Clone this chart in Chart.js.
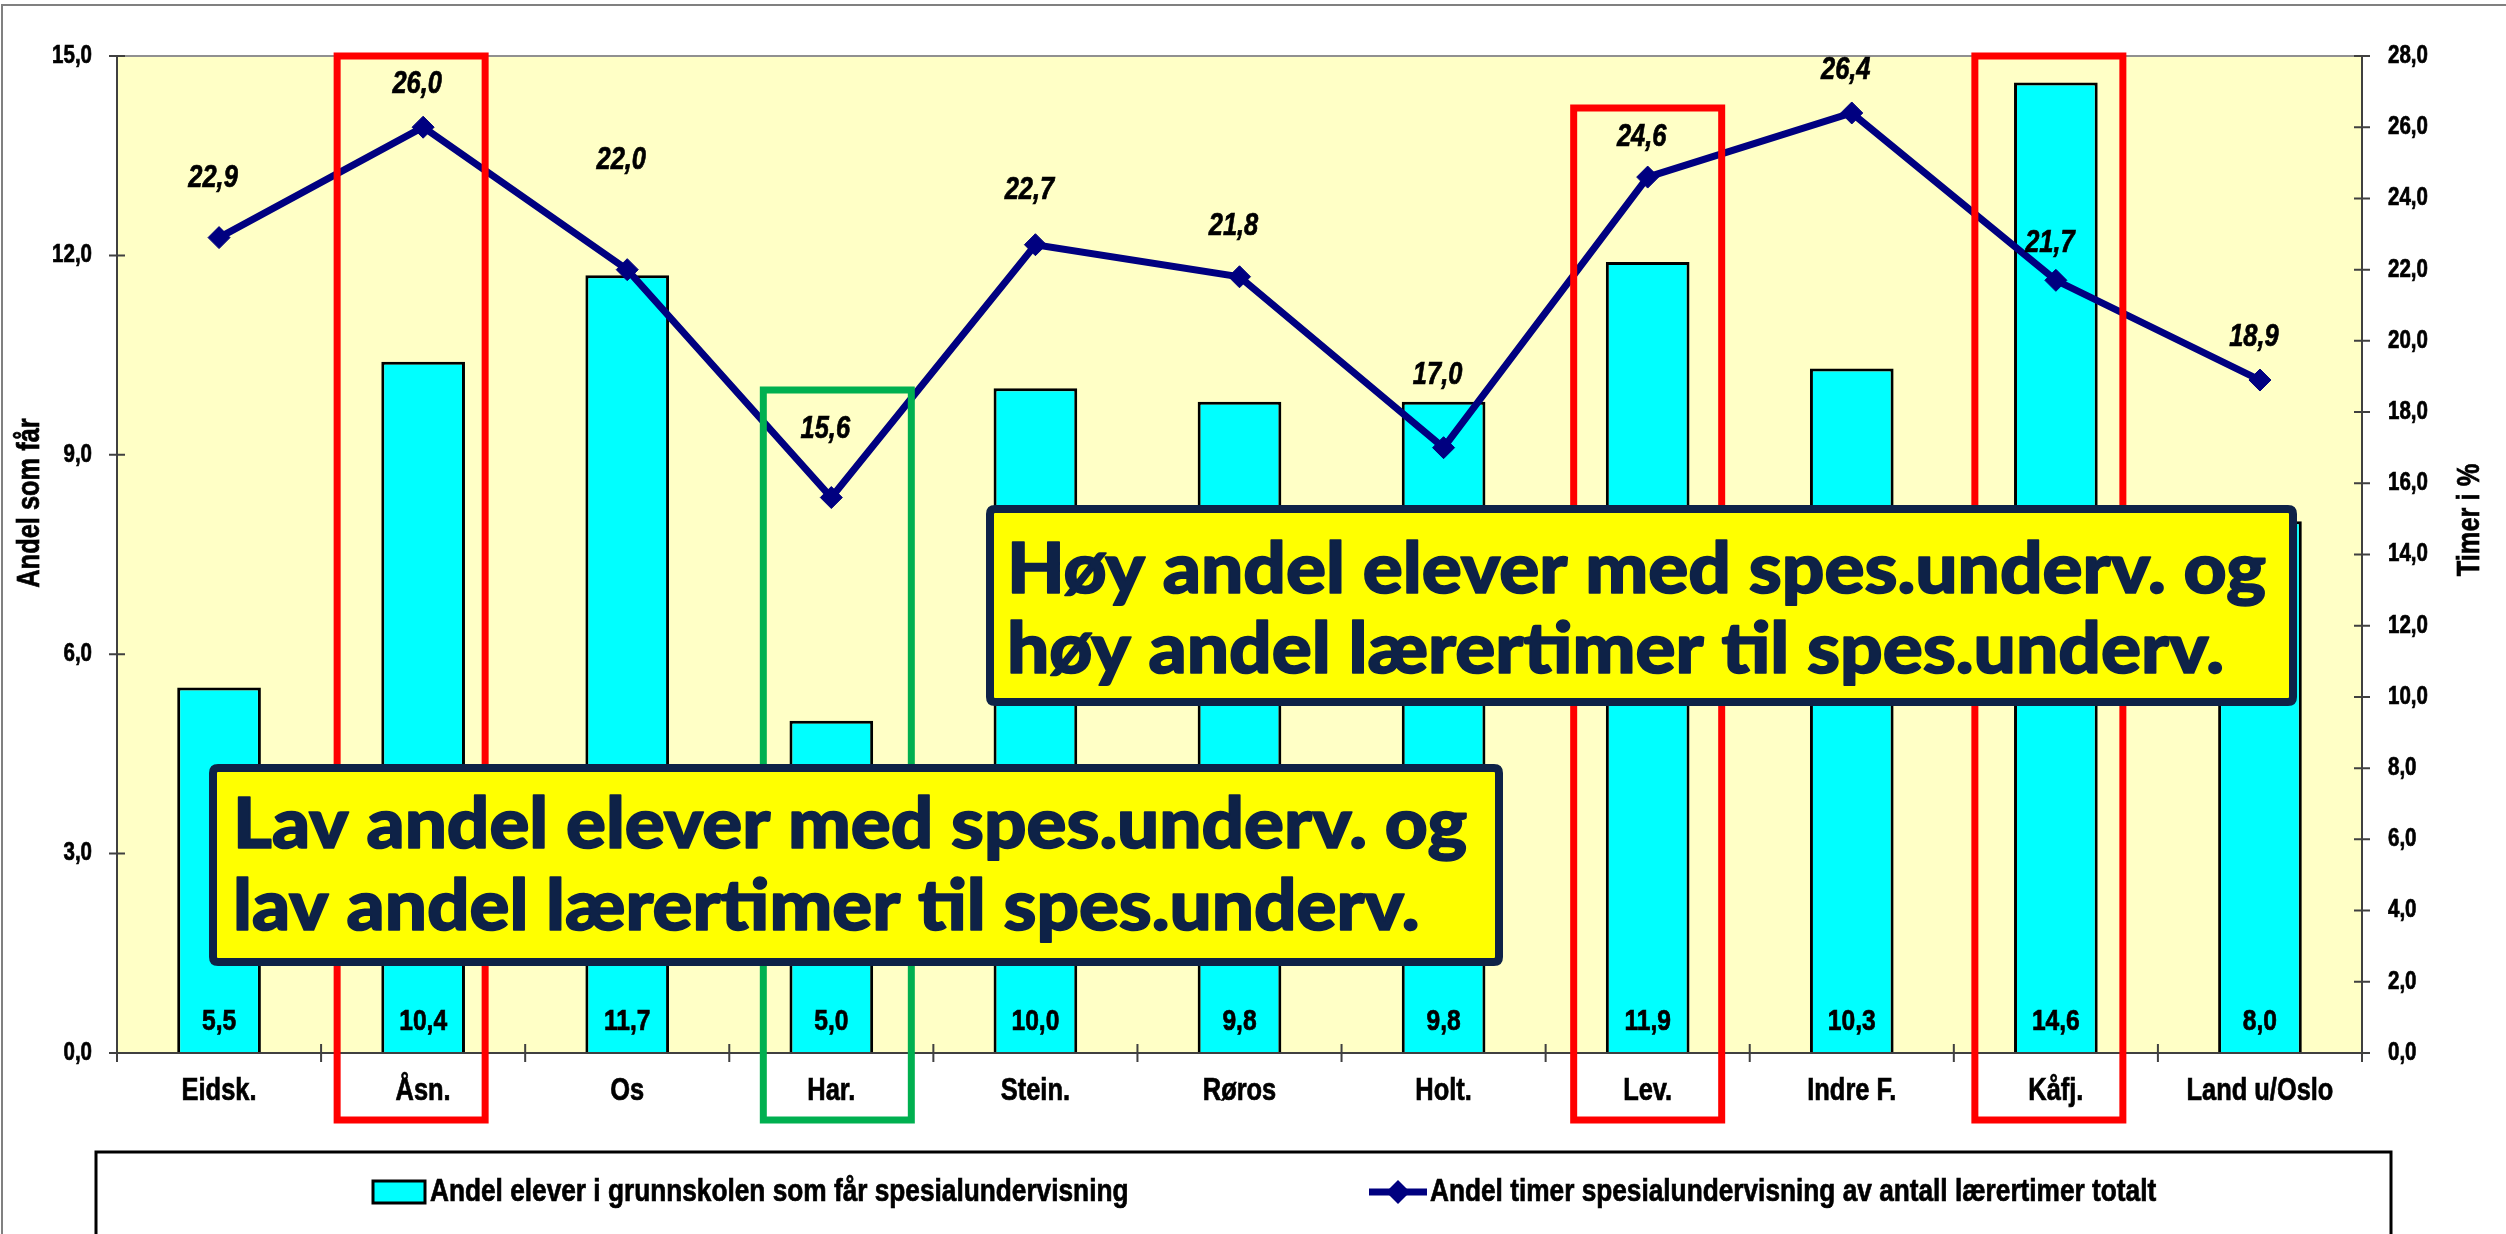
<!DOCTYPE html>
<html>
<head>
<meta charset="utf-8">
<script src="https://cdn.jsdelivr.net/npm/chart.js@4.4.1/dist/chart.umd.min.js"></script>
<style>
  html, body { margin: 0; padding: 0; background: #fff; }
  #wrap { width: 2506px; height: 1234px; }
</style>
</head>
<body>
<div id="wrap"><canvas id="chart" width="2506" height="1234"></canvas></div>
<script>
// kommuner langs x-aksen
const categories = ['Eidsk.', 'Åsn.', 'Os', 'Har.', 'Stein.', 'Røros', 'Holt.', 'Lev.', 'Indre F.', 'Kåfj.', 'Land u/Oslo'];
// venstre akse: andel elever med spesialundervisning
const elevShare = [5.5, 10.4, 11.7, 5.0, 10.0, 9.8, 9.8, 11.9, 10.3, 14.6, 8.0];
// høyre akse: andel timer spesialundervisning (%)
const hoursShare = [22.9, 26.0, 22.0, 15.6, 22.7, 21.8, 17.0, 24.6, 26.4, 21.7, 18.9];

const barLegend = 'Andel elever i grunnskolen som får spesialundervisning';
const lineLegend = 'Andel timer spesialundervisning av antall lærertimer totalt';

// how far above each point its label sits (px)
const lineLabelLift = [59, 43, 109, 68, 54, 50, 72, 40, 43, 37, 43];

const NAVY = '#000080';
const NOTE_INK = '#0E2247';

const fmt = (v) => v.toFixed(1).replace('.', ',');

// Arial Narrow isn't around, so squeeze Liberation Sans Bold instead
function narrowText(ctx, text, x, y, size, align, italic, rot) {
  ctx.save();
  ctx.translate(x, y);
  if (rot) ctx.rotate(rot);
  ctx.scale(0.82, 1);
  ctx.font = `${italic ? 'italic ' : ''}bold ${size}px "Liberation Sans", Arial, sans-serif`;
  ctx.textAlign = align;
  ctx.textBaseline = 'middle';
  ctx.fillStyle = '#000';
  ctx.strokeStyle = '#000';
  ctx.lineWidth = 0.7;
  ctx.fillText(text, 0, 0);
  ctx.strokeText(text, 0, 0);
  ctx.restore();
}

function roundRect(ctx, x, y, w, h, r) {
  ctx.beginPath();
  ctx.moveTo(x + r, y);
  ctx.lineTo(x + w - r, y);
  ctx.quadraticCurveTo(x + w, y, x + w, y + r);
  ctx.lineTo(x + w, y + h - r);
  ctx.quadraticCurveTo(x + w, y + h, x + w - r, y + h);
  ctx.lineTo(x + r, y + h);
  ctx.quadraticCurveTo(x, y + h, x, y + h - r);
  ctx.lineTo(x, y + r);
  ctx.quadraticCurveTo(x, y, x + r, y);
  ctx.closePath();
}

function drawNote(ctx, box, lines) {
  ctx.save();
  const bw = 8;
  roundRect(ctx, box.x + bw / 2, box.y + bw / 2, box.w - bw, box.h - bw, 5);
  ctx.fillStyle = '#FFFF00';
  ctx.fill();
  ctx.lineWidth = bw;
  ctx.strokeStyle = NOTE_INK;
  ctx.stroke();
  ctx.fillStyle = NOTE_INK;
  ctx.lineWidth = 1.6;
  ctx.lineJoin = 'round';
  ctx.font = '900 70px Lato, "Open Sans", sans-serif';
  ctx.textBaseline = 'alphabetic';
  ctx.textAlign = 'left';
  const sx = box.textW / ctx.measureText(lines[0]).width;
  lines.forEach((t, i) => {
    ctx.save();
    ctx.translate(box.x + box.pad, box.y + box.base[i]);
    ctx.scale(sx, 1);
    ctx.fillText(t, 0, 0);
    ctx.strokeText(t, 0, 0);
    ctx.restore();
  });
  ctx.restore();
}

const excelLook = {
  id: 'excelLook',
  beforeDraw(chart) {
    const { ctx, chartArea: a } = chart;
    ctx.save();
    ctx.fillStyle = '#fff';
    ctx.fillRect(0, 0, chart.width, chart.height);
    // outer frame (right/bottom fall outside the picture)
    ctx.strokeStyle = '#808080';
    ctx.lineWidth = 2;
    ctx.beginPath();
    ctx.moveTo(2, chart.height);
    ctx.lineTo(2, 5);
    ctx.lineTo(chart.width, 5);
    ctx.stroke();
    // plot area
    ctx.fillStyle = '#FFFFC6';
    ctx.fillRect(a.left, a.top, a.right - a.left, a.bottom - a.top);
    ctx.restore();
  },
  afterDatasetsDraw(chart) {
    const { ctx, chartArea: a, scales } = chart;
    ctx.save();
    // plot border + axes
    ctx.strokeStyle = '#909090';
    ctx.lineWidth = 2;
    ctx.beginPath();
    ctx.moveTo(a.left, a.top);
    ctx.lineTo(a.right, a.top);
    ctx.stroke();
    ctx.strokeStyle = '#404040';
    ctx.beginPath();
    ctx.moveTo(a.left, a.top); ctx.lineTo(a.left, a.bottom);
    ctx.moveTo(a.right, a.top); ctx.lineTo(a.right, a.bottom);
    ctx.moveTo(a.left - 8, a.bottom); ctx.lineTo(a.right + 8, a.bottom);
    // cross ticks
    scales.y.ticks.forEach((t, i) => {
      const y = scales.y.getPixelForTick(i);
      ctx.moveTo(a.left - 8, y); ctx.lineTo(a.left + 8, y);
    });
    scales.y1.ticks.forEach((t, i) => {
      const y = scales.y1.getPixelForTick(i);
      ctx.moveTo(a.right - 8, y); ctx.lineTo(a.right + 8, y);
    });
    const cw = (a.right - a.left) / categories.length;
    for (let i = 0; i <= categories.length; i++) {
      const x = a.left + i * cw;
      ctx.moveTo(x, a.bottom - 9); ctx.lineTo(x, a.bottom + 9);
    }
    ctx.stroke();

    // tick labels
    scales.y.ticks.forEach((t, i) => {
      narrowText(ctx, fmt(t.value), a.left - 25, scales.y.getPixelForTick(i), 25, 'right');
    });
    scales.y1.ticks.forEach((t, i) => {
      narrowText(ctx, fmt(t.value), a.right + 26, scales.y1.getPixelForTick(i), 25, 'left');
    });
    categories.forEach((c, i) => {
      narrowText(ctx, c, scales.x.getPixelForValue(i), a.bottom + 38, 31, 'center');
    });

    // bar values at the foot of each bar
    chart.getDatasetMeta(1).data.forEach((el, i) => {
      narrowText(ctx, fmt(elevShare[i]), el.x, a.bottom - 31, 30, 'center');
    });
    // line values
    chart.getDatasetMeta(0).data.forEach((el, i) => {
      narrowText(ctx, fmt(hoursShare[i]), el.x - 6, el.y - lineLabelLift[i], 31, 'center', true);
    });
    ctx.restore();
  },
  afterDraw(chart) {
    const { ctx, chartArea: a, scales } = chart;
    ctx.save();
    // axis titles
    narrowText(ctx, 'Andel som får', 30, 503, 31, 'center', false, -Math.PI / 2);
    narrowText(ctx, 'Timer i %', 2470, 520, 31, 'center', false, -Math.PI / 2);

    // highlight frames around some municipalities
    const frames = [
      { i: 1, dx: -12, top: a.top, color: '#FF0000' },
      { i: 3, dx: 6, top: 390, color: '#00B050' },
      { i: 7, dx: 0, top: 108, color: '#FF0000' },
      { i: 9, dx: -7, top: a.top, color: '#FF0000' },
    ];
    ctx.lineWidth = 7;
    frames.forEach((f) => {
      const cx = scales.x.getPixelForValue(f.i) + f.dx;
      ctx.strokeStyle = f.color;
      ctx.strokeRect(cx - 74, f.top, 148, 1120 - f.top);
    });

    // text notes
    drawNote(ctx, { x: 986, y: 505, w: 1311, h: 201, pad: 21, textW: 1259, base: [88, 168] },
      ['Høy andel elever med spes.underv. og', 'høy andel lærertimer til spes.underv.']);
    drawNote(ctx, { x: 209, y: 764, w: 1294, h: 202, pad: 24, textW: 1234, base: [84, 166] },
      ['Lav andel elever med spes.underv. og', 'lav andel lærertimer til spes.underv.']);

    // legend box
    ctx.strokeStyle = '#000';
    ctx.lineWidth = 3;
    ctx.strokeRect(96, 1152, 2295, 200);
    const ly = 1192;
    ctx.fillStyle = '#00FFFF';
    ctx.fillRect(373, ly - 11, 52, 22);
    ctx.lineWidth = 3;
    ctx.strokeRect(373, ly - 11, 52, 22);
    ctx.strokeStyle = NAVY;
    ctx.lineWidth = 7;
    ctx.beginPath();
    ctx.moveTo(1369, ly); ctx.lineTo(1427, ly);
    ctx.stroke();
    ctx.fillStyle = NAVY;
    ctx.beginPath();
    ctx.moveTo(1398, ly - 12); ctx.lineTo(1410, ly); ctx.lineTo(1398, ly + 12); ctx.lineTo(1386, ly);
    ctx.closePath();
    ctx.fill();
    narrowText(ctx, barLegend, 430, ly, 32, 'left');
    narrowText(ctx, lineLegend, 1430, ly, 32, 'left');
    ctx.restore();
  },
};

new Chart(document.getElementById('chart'), {
  type: 'bar',
  data: {
    labels: categories,
    datasets: [
      {
        type: 'line',
        label: lineLegend,
        data: hoursShare,
        yAxisID: 'y1',
        order: 0,
        borderColor: NAVY,
        backgroundColor: NAVY,
        borderWidth: 7,
        pointStyle: 'rectRot',
        pointRadius: 11,
        pointBorderWidth: 1,
        tension: 0,
      },
      {
        type: 'bar',
        label: barLegend,
        data: elevShare,
        yAxisID: 'y',
        order: 1,
        backgroundColor: '#00FFFF',
        borderColor: '#000',
        borderWidth: 3,
        barPercentage: 0.41,
        categoryPercentage: 1,
      },
    ],
  },
  options: {
    responsive: false,
    devicePixelRatio: 1,
    animation: false,
    layout: { padding: { top: 56, left: 0, right: 0, bottom: 0 } },
    plugins: { legend: { display: false }, tooltip: { enabled: false } },
    scales: {
      x: {
        offset: true,
        grid: { display: false, drawTicks: false },
        border: { display: false },
        ticks: { display: false, autoSkip: false },
        afterFit: (s) => { s.height = 181; },
      },
      y: {
        position: 'left',
        min: 0,
        max: 15,
        grid: { display: false, drawTicks: false },
        border: { display: false },
        ticks: { display: false, stepSize: 3 },
        afterFit: (s) => { s.width = 117; },
      },
      y1: {
        position: 'right',
        min: 0,
        max: 28,
        grid: { display: false, drawTicks: false },
        border: { display: false },
        ticks: { display: false, stepSize: 2 },
        afterFit: (s) => { s.width = 144; },
      },
    },
  },
  plugins: [excelLook],
});
</script>
</body>
</html>
